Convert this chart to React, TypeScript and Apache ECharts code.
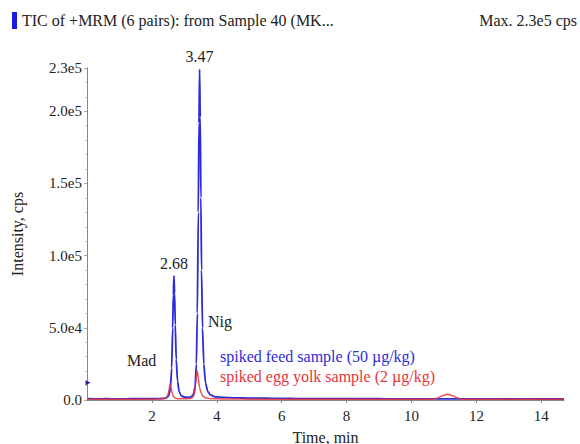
import React, { useEffect, useRef } from "react";
import * as echarts from "echarts";

const xTicks = [2, 4, 6, 8, 10, 12, 14];
const yTicks = [0, 50000, 100000, 150000, 200000, 230000];

const feedPoints: [number, number][] = [
  [0.02, 900], [0.3, 800], [0.6, 850], [0.9, 750], [1.2, 800], [1.5, 900], [1.8, 850], [2.1, 900], [2.35, 1100],
  [2.45, 1500], [2.52, 3000], [2.57, 8000], [2.61, 22000], [2.64, 50000], [2.66, 73000], [2.68, 86000],
  [2.70, 74000], [2.72, 52000], [2.75, 28000], [2.79, 13000], [2.84, 6000], [2.90, 3000], [3.0, 2000], [3.1, 1800],
  [3.2, 2000], [3.28, 4000], [3.33, 9000], [3.37, 25000], [3.40, 60000], [3.43, 130000], [3.45, 192000],
  [3.47, 229000], [3.49, 196000], [3.51, 140000], [3.53, 90000], [3.56, 50000], [3.60, 25000], [3.65, 12000],
  [3.72, 6000], [3.80, 3500], [3.95, 2200], [4.2, 1800], [4.6, 1500], [5.0, 1300], [5.5, 1200], [6.0, 1100],
  [6.5, 1000], [7.0, 950], [7.5, 900], [8.0, 900], [8.5, 850], [9.0, 850], [9.5, 800], [10.0, 800], [10.5, 800],
  [11.0, 750], [11.5, 800], [12.0, 750], [12.5, 750], [13.0, 700], [13.5, 750], [14.0, 700], [14.5, 700], [14.7, 700],
];

const yolkPoints: [number, number][] = [
  [0.02, 500], [0.5, 450], [1.0, 500], [1.5, 450], [2.0, 550], [2.3, 700],
  [2.38, 900], [2.45, 1800], [2.50, 4000], [2.53, 7500], [2.56, 11500], [2.59, 9000], [2.62, 5000],
  [2.66, 2500], [2.72, 1300], [2.80, 900], [3.0, 800], [3.15, 900], [3.25, 1500], [3.31, 4000],
  [3.35, 11000], [3.38, 19000], [3.40, 20300], [3.43, 15000], [3.47, 8500], [3.52, 4500], [3.58, 2500],
  [3.66, 1500], [3.78, 1000], [4.0, 800], [4.5, 700], [5.0, 600], [6.0, 550], [7.0, 500], [8.0, 500],
  [9.0, 500], [10.0, 500], [10.6, 500], [10.8, 1200], [10.95, 3000], [11.1, 4000], [11.25, 3200],
  [11.4, 1500], [11.55, 600], [12.0, 450], [13.0, 450], [14.0, 450], [14.7, 450],
];

const peakLabels: { name: string; coord: [number, number] }[] = [
  { name: "3.47", coord: [3.47, 229000] },
  { name: "2.68", coord: [2.68, 86000] },
];

const titleText = "TIC of +MRM (6 pairs): from Sample 40 (MK...";
const maxText = "Max. 2.3e5 cps";
const feedName = "spiked feed sample (50 µg/kg)";
const yolkName = "spiked egg yolk sample (2 µg/kg)";

const FONT = "'Liberation Serif', 'Times New Roman', serif";
const BLUE = "#2b2bd9";
const RED = "#e8343a";

function fmtY(v: number): string {
  if (v === 0) return "0.0";
  return v.toExponential(1).replace("+", "");
}

export default function App() {
  const ref = useRef<HTMLDivElement>(null);
  useEffect(() => {
    if (!ref.current) return;
    const chart = echarts.init(ref.current, null, { renderer: "svg" });
    chart.setOption({
      animation: false,
      backgroundColor: "#fff",
      textStyle: { fontFamily: FONT },
      grid: { left: 87, right: 16, top: 68, bottom: 44, outerBoundsMode: "none", containLabel: false },
      xAxis: {
        type: "value",
        min: 0,
        max: 14.7,
        interval: 2,
        name: "Time, min",
        nameLocation: "middle",
        nameGap: 29,
        nameTextStyle: { fontFamily: FONT, fontSize: 16, color: "#222" },
        axisLine: { show: true, lineStyle: { color: "#888", width: 1 } },
        axisTick: { show: true, length: 3, lineStyle: { color: "#888" }, customValues: xTicks },
        axisLabel: {
          customValues: xTicks,
          fontFamily: FONT,
          fontSize: 15,
          color: "#222",
          margin: 8,
        },
        splitLine: { show: false },
      },
      yAxis: {
        type: "value",
        min: 0,
        max: 230000,
        interval: 50000,
        name: "Intensity, cps",
        nameLocation: "middle",
        nameGap: 62,
        nameTextStyle: { fontFamily: FONT, fontSize: 16, color: "#222" },
        axisLine: { show: true, lineStyle: { color: "#888", width: 1 } },
        axisTick: { show: true, length: 3, lineStyle: { color: "#aaa" }, customValues: yTicks },
        minorTick: { show: true, splitNumber: 5, length: 2, lineStyle: { color: "#ccc" } },
        axisLabel: {
          customValues: yTicks,
          formatter: (v: number) => fmtY(v),
          fontFamily: FONT,
          fontSize: 15,
          color: "#222",
          margin: 5,
        },
        splitLine: { show: false },
      },
      series: [
        {
          type: "line",
          name: feedName,
          data: feedPoints,
          showSymbol: false,
          smooth: 0.2,
          smoothMonotone: "x",
          lineStyle: { color: BLUE, width: 1.8 },
          itemStyle: { color: BLUE },
          z: 2,
          markPoint: {
            silent: true,
            data: [
              ...peakLabels.map((p) => ({
                coord: p.coord,
                symbol: "circle",
                symbolSize: 1,
                itemStyle: { color: "transparent" },
                label: {
                  show: true,
                  position: "top",
                  distance: 4,
                  formatter: p.name,
                  fontFamily: FONT,
                  fontSize: 16,
                  color: "#222",
                },
              })),
              {
                coord: [0, 12000],
                symbol: "triangle",
                symbolRotate: -90,
                symbolSize: [5, 5],
                symbolOffset: [1, 0],
                itemStyle: { color: "#2020b0" },
                label: { show: false },
              },
            ],
          },
        },
        {
          type: "line",
          name: yolkName,
          data: yolkPoints,
          showSymbol: false,
          smooth: 0.2,
          smoothMonotone: "x",
          lineStyle: { color: RED, width: 1.5, opacity: 0.85 },
          itemStyle: { color: RED },
          z: 3,
        },
      ],
      graphic: [
        { type: "rect", shape: { x: 12, y: 12, width: 5, height: 17 }, style: { fill: "#1a1ae0" } },
        {
          type: "text",
          x: 22,
          y: 20,
          style: { text: titleText, fontFamily: FONT, fontSize: 16, fill: "#222", verticalAlign: "middle" },
        },
        {
          type: "text",
          x: 577,
          y: 20,
          style: { text: maxText, fontFamily: FONT, fontSize: 16, fill: "#222", align: "right", verticalAlign: "middle" },
        },
        {
          type: "text",
          x: 208,
          y: 321,
          style: { text: "Nig", fontFamily: FONT, fontSize: 16, fill: "#222", verticalAlign: "middle" },
        },
        {
          type: "text",
          x: 127,
          y: 360,
          style: { text: "Mad", fontFamily: FONT, fontSize: 16, fill: "#222", verticalAlign: "middle" },
        },
        {
          type: "text",
          x: 220,
          y: 356,
          style: { text: feedName, fontFamily: FONT, fontSize: 16, fill: BLUE, verticalAlign: "middle" },
        },
        {
          type: "text",
          x: 220,
          y: 376,
          style: { text: yolkName, fontFamily: FONT, fontSize: 16, fill: RED, verticalAlign: "middle" },
        },
      ],
    });
    return () => chart.dispose();
  }, []);
  return <div ref={ref} style={{ position: "absolute", left: 0, top: 0, width: 580, height: 444 }} />;
}
